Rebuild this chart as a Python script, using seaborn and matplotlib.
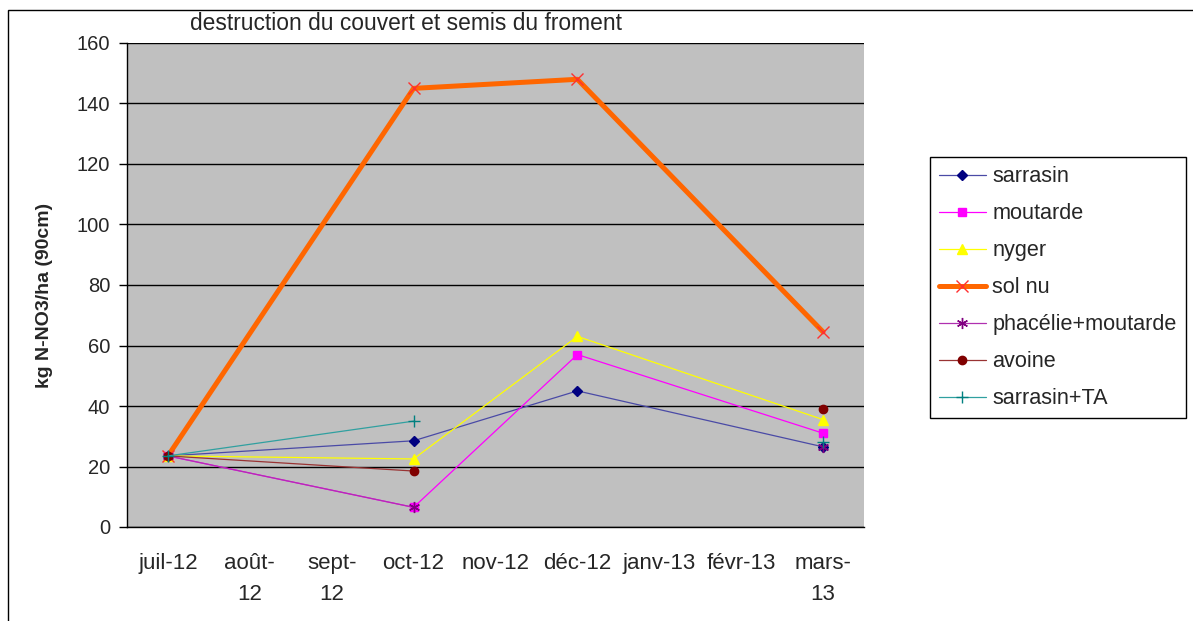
import matplotlib
matplotlib.use("Agg")
import matplotlib.pyplot as plt
import seaborn as sns
import pandas as pd
from matplotlib.patches import Rectangle

# month categories of the x axis
months = ["juil-12", "août-\n12", "sept-\n12", "oct-12", "nov-12",
          "déc-12", "janv-13", "févr-13", "mars-\n13"]
# sampling dates (index into months)
sample_idx = [0, 3, 5, 8]

sarrasin = [23.5, 28.5, 45.0, 26.5]
moutarde = [23.5, 6.5, 57.0, 31.0]
nyger = [23.5, 22.5, 63.0, 35.5]
sol_nu = [23.5, 145.0, 148.0, 64.5]
phacelie_moutarde = [23.5, 6.5, None, 26.5]
avoine = [23.5, 18.5, None, 39.0]
sarrasin_ta = [23.5, 35.0, None, 28.0]

series_names = ["sarrasin", "moutarde", "nyger", "sol nu",
                "phacélie+moutarde", "avoine", "sarrasin+TA"]
series_values = [sarrasin, moutarde, nyger, sol_nu,
                 phacelie_moutarde, avoine, sarrasin_ta]

# style per series: line color, line width, marker, marker size, marker color
styles = {
    "sarrasin": dict(color="#4a4aa6", lw=0.9, marker="D", ms=5, mc="#000080"),
    "moutarde": dict(color="#ff00ff", lw=0.9, marker="s", ms=5.5, mc="#ff00ff"),
    "nyger": dict(color="#ffff00", lw=0.9, marker="^", ms=7, mc="#ffff00"),
    "sol nu": dict(color="#ff6600", lw=3.6, marker="x", ms=9, mc="#ff3030"),
    "phacélie+moutarde": dict(color="#b030b0", lw=0.9, marker=(6, 2, 0), ms=8, mc="#800080"),
    "avoine": dict(color="#993333", lw=0.9, marker="o", ms=6, mc="#800000"),
    "sarrasin+TA": dict(color="#30a0a0", lw=0.9, marker="+", ms=9, mc="#008080"),
}


def runs(values):
    """split a series into contiguous chunks (None = gap)"""
    chunk = []
    for pos, v in zip(sample_idx, values):
        if v is None:
            if chunk:
                yield chunk
            chunk = []
        else:
            chunk.append((pos, v))
    if chunk:
        yield chunk


sns.set_style("white")
plt.rcParams["font.family"] = ["Liberation Sans", "DejaVu Sans"]

W, H = 1193, 621
fig = plt.figure(figsize=(W / 100, H / 100), dpi=100)
ax = fig.add_axes([127 / W, 1 - 527 / H, (864 - 127) / W, (527 - 43) / H])
ax.set_facecolor("#c0c0c0")

handles = []
for name, vals in zip(series_names, series_values):
    st = styles[name]
    first = True
    for chunk in runs(vals):
        df = pd.DataFrame(chunk, columns=["x", "y"])
        sns.lineplot(data=df, x="x", y="y", ax=ax, color=st["color"], lw=st["lw"],
                     marker=st["marker"], markersize=st["ms"],
                     markerfacecolor=st["mc"], markeredgecolor=st["mc"],
                     markeredgewidth=1.0, label=name if first else None,
                     legend=False, sort=True, estimator=None)
        if first:
            handles.append(ax.lines[-1])
        first = False

ax.set_xlim(-0.5, len(months) - 0.5)
ax.set_ylim(0, 160)
ax.set_yticks(range(0, 161, 20))
ax.yaxis.grid(True, color="black", lw=1.0)
ax.set_axisbelow(True)

# x: ticks on category boundaries, labels centred in categories
ax.set_xticks([i - 0.5 for i in range(len(months) + 1)])
ax.set_xticklabels([])
ax.set_xticks(range(len(months)), minor=True)
ax.set_xticklabels(months, minor=True, fontsize=16, linespacing=1.6, va="top")
ax.tick_params(axis="x", which="major", direction="out", length=7, width=1, color="black")
ax.tick_params(axis="x", which="minor", length=0, pad=19)
ax.tick_params(axis="y", direction="out", length=6, width=1, color="black",
               labelsize=14.5, pad=6, left=True)
ax.set_xlabel("")
ax.set_ylabel("")

for side in ["left", "bottom"]:
    ax.spines[side].set_color("black")
    ax.spines[side].set_linewidth(1)
ax.spines["top"].set_visible(False)
ax.spines["right"].set_visible(False)

fig.text(45 / W, 1 - 295 / H, "kg N-NO3/ha (90cm)", rotation=90, fontsize=14,
         fontweight="bold", ha="center", va="center")
fig.text(190 / W, 1 - 24 / H, "destruction du couvert et semis du froment",
         fontsize=16.4, ha="left", va="center")

leg = fig.legend(handles=handles, labels=series_names, loc="upper left",
                 bbox_to_anchor=(930 / W, 1 - 157 / H), bbox_transform=fig.transFigure,
                 fontsize=15.6, frameon=True, fancybox=False, framealpha=1,
                 edgecolor="black", borderpad=0.42, labelspacing=0.74,
                 handlelength=2.15, handletextpad=0.3, borderaxespad=0)
leg.get_frame().set_linewidth(1)

# outer chart border
fig.patches.append(Rectangle((8 / W, -0.01), 1.0, 1 - 10 / H + 0.01,
                             transform=fig.transFigure, fill=False,
                             edgecolor="black", lw=1))

fig.savefig("out.png", dpi=100)
